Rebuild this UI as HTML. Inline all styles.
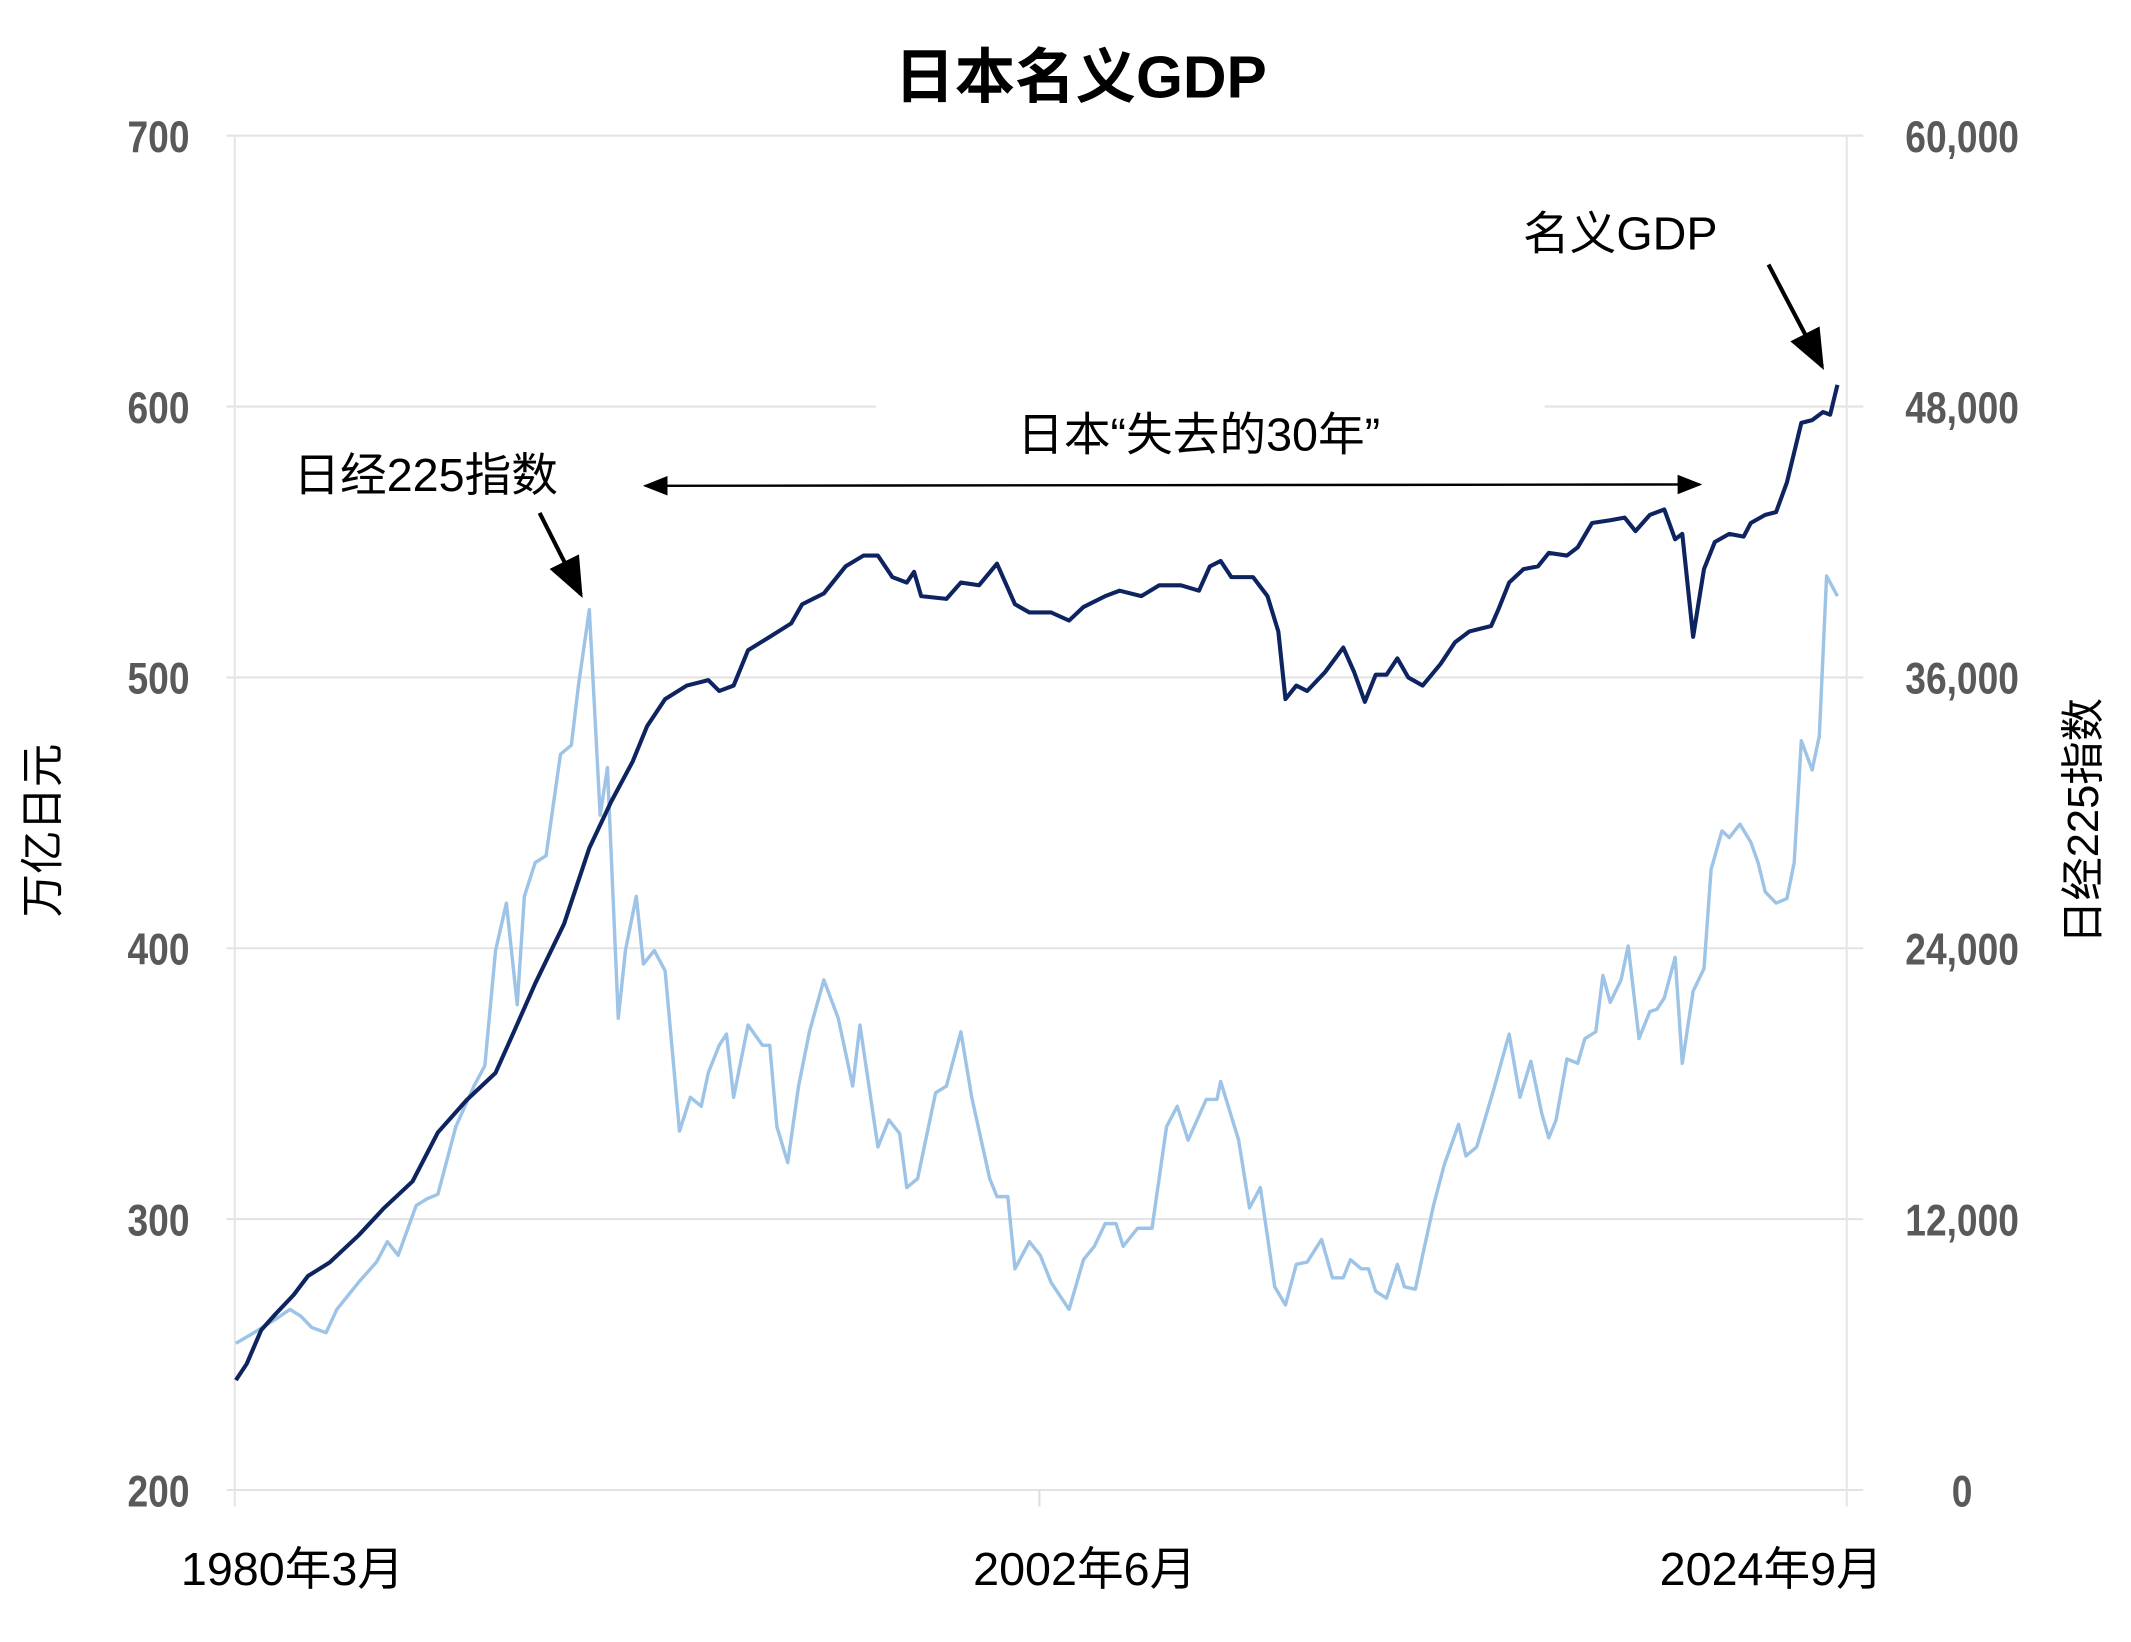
<!DOCTYPE html>
<html><head><meta charset="utf-8"><style>
html,body{margin:0;padding:0;background:#fff;}
svg{display:block;}
text{font-family:"Liberation Sans","Noto Sans CJK SC",sans-serif;}
</style></head><body>
<svg width="2131" height="1642" viewBox="0 0 1552 1210" preserveAspectRatio="none" xmlns="http://www.w3.org/2000/svg">
<defs><marker id="ah" markerWidth="10" markerHeight="10" refX="9" refY="5" orient="auto"><path d="M0,1 L10,5 L0,9 z" fill="#000"/></marker>
<marker id="ah2" markerWidth="10" markerHeight="10" refX="1" refY="5" orient="auto"><path d="M10,1 L0,5 L10,9 z" fill="#000"/></marker></defs>
<text x="787" y="72" font-size="44" font-weight="bold" text-anchor="middle">日本名义GDP</text>
<g id="grid"></g>
<g id="ticks"></g>
<line x1="171" y1="100" x2="171" y2="1110" stroke="#e6e6e6" stroke-width="1.5"/>
<line x1="1345" y1="100" x2="1345" y2="1110" stroke="#e6e6e6" stroke-width="1.5"/>
<line x1="757" y1="1098" x2="757" y2="1110" stroke="#ddd" stroke-width="1.5"/>
<text transform="translate(42,612) rotate(-90)" font-size="32" text-anchor="middle">万亿日元</text>
<text transform="translate(1528,605) rotate(-90)" font-size="32" text-anchor="middle">日经225指数</text>
<text x="213" y="1168" font-size="34" text-anchor="middle">1980年3月</text>
<text x="790" y="1168" font-size="34" text-anchor="middle">2002年6月</text>
<text x="1290" y="1168" font-size="34" text-anchor="middle">2024年9月</text>
<polyline id="nikkei" fill="none" stroke="#9dc3e6" stroke-width="2.5" stroke-linejoin="round"/>
<polyline id="gdp" fill="none" stroke="#0d2461" stroke-width="3" stroke-linejoin="round"/>
<text x="310" y="362" font-size="34" text-anchor="middle">日经225指数</text>
<line x1="393" y1="378" x2="423" y2="438" stroke="#000" stroke-width="3" marker-end="url(#ah)"/>
<text x="1180" y="184" font-size="34" text-anchor="middle">名义GDP</text>
<line x1="1288" y1="195" x2="1327" y2="270" stroke="#000" stroke-width="3" marker-end="url(#ah)"/>
<text x="873" y="332" font-size="34" text-anchor="middle">日本“失去的30年”</text>
<line x1="470" y1="358" x2="1238" y2="357" stroke="#000" stroke-width="1.8" marker-end="url(#ah)" marker-start="url(#ah2)"/>
</svg>
<script>
const leftTicks=[200,300,400,500,600,700];
const rightTickLabels=["0","12,000","24,000","36,000","48,000","60,000"];
const gdpYears=[1980.2,1980.5,1980.9,1981.3,1981.8,1982.2,1982.8,1983.6,1984.3,1985.1,1985.8,1986.6,1987.4,1987.9,1988.5,1989.3,1990.0,1990.6,1991.2,1991.6,1992.1,1992.7,1993.3,1993.6,1994.0,1994.4,1995.0,1995.6,1995.9,1996.5,1997.1,1997.6,1998.0,1998.4,1998.8,1999.0,1999.2,1999.9,2000.3,2000.8,2001.3,2001.8,2002.2,2002.8,2003.3,2003.7,2004.3,2004.7,2005.3,2005.8,2006.4,2006.9,2007.2,2007.5,2007.8,2008.4,2008.8,2009.1,2009.3,2009.6,2009.9,2010.4,2010.9,2011.2,2011.5,2011.8,2012.1,2012.4,2012.7,2013.1,2013.6,2014.0,2014.4,2015.0,2015.2,2015.5,2015.9,2016.3,2016.6,2017.1,2017.4,2017.8,2018.3,2018.7,2019.0,2019.4,2019.8,2020.1,2020.3,2020.6,2020.9,2021.2,2021.6,2022.0,2022.2,2022.6,2022.9,2023.2,2023.6,2023.9,2024.2,2024.4,2024.6];
const gdpValues=[240.6,246.6,259,265,272,279,284,294,304,314,332,344,354,369,387,409,437,454,469,482,492,497,499,495,497,510,515,520,527,531,541,545,545,537,535,539,530,529,535,534,542,527,524,524,521,526,530,532,530,534,534,532,541,543,537,537,530,517,492,497,495,502,511,502,491,501,501,507,500,497,505,513,517,519,525,535,540,541,546,545,548,557,558,559,554,560,562,551,553,515,540,550,553,552,557,560,561,572,594,595,598,597,608];
const nikkeiYears=[1980.2,1980.7,1981.3,1981.7,1982.0,1982.3,1982.7,1983.0,1983.6,1984.1,1984.4,1984.7,1985.2,1985.5,1985.8,1986.3,1986.8,1987.1,1987.4,1987.7,1988.0,1988.2,1988.5,1988.8,1989.2,1989.5,1989.7,1990.0,1990.3,1990.5,1990.8,1991.0,1991.3,1991.5,1991.8,1992.1,1992.5,1992.8,1993.1,1993.3,1993.6,1993.8,1994.0,1994.4,1994.8,1995.0,1995.2,1995.5,1995.8,1996.1,1996.5,1996.9,1997.3,1997.5,1998.0,1998.3,1998.6,1998.8,1999.1,1999.6,1999.9,2000.3,2000.6,2001.1,2001.3,2001.6,2001.8,2002.2,2002.5,2002.8,2003.3,2003.7,2004.0,2004.3,2004.6,2004.8,2005.2,2005.6,2006.0,2006.3,2006.6,2007.1,2007.4,2007.5,2008.0,2008.3,2008.6,2009.0,2009.3,2009.6,2009.9,2010.3,2010.6,2010.9,2011.1,2011.4,2011.6,2011.8,2012.1,2012.4,2012.6,2012.9,2013.1,2013.4,2013.7,2014.1,2014.3,2014.6,2015.1,2015.5,2015.8,2016.1,2016.4,2016.6,2016.8,2017.1,2017.4,2017.6,2017.9,2018.1,2018.3,2018.6,2018.8,2019.1,2019.4,2019.6,2019.8,2020.1,2020.3,2020.6,2020.9,2021.1,2021.4,2021.6,2021.9,2022.2,2022.4,2022.6,2022.9,2023.2,2023.4,2023.6,2023.9,2024.1,2024.3,2024.6];
const nikkeiValues=[6500,6970,7570,8000,7700,7200,6970,8000,9200,10100,11000,10400,12600,12900,13100,16100,17900,18800,23900,26000,21500,26300,27800,28100,32600,33000,35700,39000,29900,32000,20900,23900,26300,23300,23900,23000,15900,17400,17000,18500,19700,20200,17400,20600,19700,19700,16100,14500,17900,20300,22600,20900,17900,20600,15200,16400,15800,13400,13800,17600,17900,20300,17400,13800,13000,13000,9800,11000,10400,9200,8000,10200,10800,11800,11800,10800,11600,11600,16100,17000,15500,17300,17300,18100,15500,12500,13400,9000,8200,10000,10100,11100,9400,9400,10200,9800,9800,8800,8500,10000,9000,8900,10400,12600,14400,16200,14800,15200,17900,20200,17400,19000,16700,15600,16400,19100,18900,20000,20300,22800,21600,22600,24100,20000,21200,21300,21800,23600,18900,22100,23100,27500,29200,28900,29500,28700,27800,26500,26000,26200,27800,33200,31900,33400,40500,39600];
const X=y=>171+(y-1980.17)*26.27;
const YL=v=>1098-(v-200)*1.996;
const YR=v=>1098-v*998/60000;
const NS="http://www.w3.org/2000/svg";
const grid=document.getElementById('grid'),ticks=document.getElementById('ticks');
leftTicks.forEach((t,i)=>{
  const y=YL(t);
  const segs=(t===600)?[[165,638],[1125,1357]]:[[165,1357]];
  segs.forEach(s=>{
    const l=document.createElementNS(NS,'line');
    
    
    l.setAttribute('x1',s[0]);l.setAttribute('x2',s[1]);l.setAttribute('y1',y);l.setAttribute('y2',y);
    l.setAttribute('stroke','#e3e3e3');l.setAttribute('stroke-width','1.5');
    grid.appendChild(l);
  });
  const a=document.createElementNS(NS,'text');
  
  
  a.setAttribute('x',138);a.setAttribute('y',y+12);a.setAttribute('text-anchor','end');
  a.setAttribute('font-size','33');a.setAttribute('font-weight','bold');a.setAttribute('fill','#595959');
  a.setAttribute('transform','translate('+138+','+(y+12)+') scale(0.82,1) translate('+(-138)+','+(-(y+12))+')');
  a.textContent=t;ticks.appendChild(a);
  const b=document.createElementNS(NS,'text');
  
  
  b.setAttribute('x',1429);b.setAttribute('y',y+12);b.setAttribute('text-anchor','middle');
  b.setAttribute('font-size','33');b.setAttribute('font-weight','bold');b.setAttribute('fill','#595959');
  b.setAttribute('transform','translate(1429,'+(y+12)+') scale(0.82,1) translate(-1429,'+(-(y+12))+')');
  b.textContent=rightTickLabels[i];ticks.appendChild(b);
});
document.getElementById('gdp').setAttribute('points',gdpYears.map((y,i)=>X(y).toFixed(1)+','+YL(gdpValues[i]).toFixed(1)).join(' '));
document.getElementById('nikkei').setAttribute('points',nikkeiYears.map((y,i)=>X(y).toFixed(1)+','+YR(nikkeiValues[i]).toFixed(1)).join(' '));
</script>
</body></html>
